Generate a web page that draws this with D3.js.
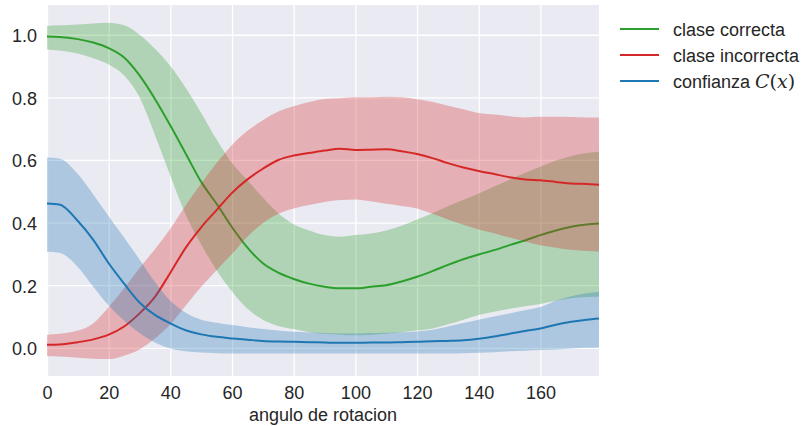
<!DOCTYPE html>
<html>
<head>
<meta charset="utf-8">
<script src="https://cdn.jsdelivr.net/npm/d3@7"></script>
<style>
  html,body{margin:0;padding:0;background:#fff;}
  svg{display:block;}
</style>
</head>
<body>
<div id="chart"></div>
<script>
// angle samples (degrees)
const angles = [0,4,10,15,20,25,30,35,40,45,50,55,60,65,70,75,80,85,90,95,100,105,110,115,120,125,130,135,140,145,150,155,160,165,170,175,179];

// clase correcta
const correctMean = [0.994,0.993,0.986,0.975,0.957,0.927,0.87,0.795,0.71,0.62,0.53,0.46,0.385,0.32,0.27,0.24,0.22,0.205,0.195,0.19,0.19,0.195,0.2,0.212,0.227,0.245,0.265,0.283,0.298,0.312,0.328,0.343,0.36,0.375,0.387,0.394,0.397];
const correctLo   = [0.953,0.95,0.94,0.925,0.905,0.87,0.8,0.68,0.55,0.425,0.33,0.248,0.18,0.125,0.09,0.07,0.06,0.05,0.045,0.042,0.04,0.042,0.045,0.05,0.055,0.062,0.075,0.09,0.105,0.115,0.125,0.133,0.14,0.15,0.158,0.162,0.163];
const correctHi   = [1.028,1.03,1.033,1.036,1.038,1.03,1.0,0.955,0.9,0.83,0.75,0.665,0.59,0.535,0.48,0.43,0.395,0.375,0.36,0.355,0.36,0.365,0.375,0.39,0.41,0.43,0.452,0.473,0.493,0.515,0.537,0.558,0.578,0.598,0.613,0.622,0.626];

// clase incorrecta
const wrongMean = [0.01,0.011,0.018,0.027,0.042,0.068,0.11,0.163,0.24,0.32,0.385,0.44,0.495,0.538,0.572,0.6,0.614,0.622,0.63,0.636,0.632,0.633,0.634,0.628,0.619,0.606,0.59,0.576,0.565,0.555,0.545,0.538,0.535,0.53,0.525,0.523,0.521];
const wrongLo   = [-0.027,-0.028,-0.032,-0.035,-0.036,-0.025,-0.005,0.03,0.075,0.135,0.195,0.248,0.3,0.355,0.398,0.428,0.445,0.456,0.466,0.472,0.474,0.468,0.46,0.453,0.445,0.428,0.41,0.393,0.378,0.366,0.352,0.34,0.328,0.32,0.313,0.309,0.307];
const wrongHi   = [0.042,0.045,0.055,0.078,0.13,0.19,0.255,0.315,0.38,0.455,0.525,0.59,0.648,0.693,0.727,0.755,0.772,0.785,0.795,0.797,0.8,0.8,0.802,0.8,0.794,0.785,0.773,0.762,0.75,0.745,0.74,0.736,0.738,0.738,0.737,0.736,0.736];

// confianza C(x)
const confMean = [0.461,0.458,0.405,0.345,0.27,0.205,0.145,0.105,0.078,0.056,0.043,0.035,0.03,0.026,0.022,0.02,0.019,0.018,0.017,0.016,0.016,0.017,0.017,0.018,0.019,0.021,0.022,0.024,0.029,0.036,0.045,0.054,0.062,0.074,0.083,0.09,0.094];
const confLo   = [0.307,0.304,0.258,0.195,0.135,0.087,0.047,0.017,-0.002,-0.011,-0.015,-0.017,-0.018,-0.018,-0.018,-0.018,-0.018,-0.018,-0.018,-0.018,-0.018,-0.018,-0.018,-0.018,-0.018,-0.018,-0.018,-0.017,-0.016,-0.014,-0.011,-0.009,-0.007,-0.005,-0.002,0,0.001];
const confHi   = [0.608,0.605,0.555,0.49,0.42,0.352,0.282,0.21,0.15,0.112,0.09,0.08,0.073,0.066,0.06,0.055,0.051,0.049,0.047,0.046,0.046,0.047,0.048,0.05,0.052,0.058,0.068,0.079,0.09,0.1,0.11,0.12,0.13,0.15,0.165,0.174,0.179];

const xTicks = [0,20,40,60,80,100,120,140,160];
const yTicks = [0,0.2,0.4,0.6,0.8,1.0];

(function() {
  const W = 803, H = 426;
  const m = {top:5,right:204,bottom:50,left:47};
  const w = W-m.left-m.right, h = H-m.top-m.bottom;
  const font = '"Liberation Sans",Arial,sans-serif';
  const txt = '#262626';

  const series = [
    {label:'clase correcta',   color:'#2ca02c', mean:correctMean, lo:correctLo, hi:correctHi},
    {label:'clase incorrecta', color:'#d62728', mean:wrongMean,   lo:wrongLo,   hi:wrongHi},
    {label:'confianza ',       color:'#1f77b4', mean:confMean,    lo:confLo,    hi:confHi, math:true}
  ];

  const xSc = d3.scaleLinear().domain([0,179]).range([0,w]);
  const ySc = d3.scaleLinear().domain([-0.09,1.095]).range([h,0]);

  const svg = d3.select('#chart').append('svg').attr('width',W).attr('height',H);
  const g = svg.append('g').attr('transform',`translate(${m.left},${m.top})`);

  g.append('rect').attr('width',w).attr('height',h).attr('fill','#eaeaf2');

  // Grid
  g.append('g').call(d3.axisLeft(ySc).tickValues(yTicks).tickSize(-w).tickFormat(''))
    .call(g=>g.select('.domain').remove())
    .call(g=>g.selectAll('line').attr('stroke','#fff').attr('stroke-width',1.3));
  g.append('g').attr('transform',`translate(0,${h})`)
    .call(d3.axisBottom(xSc).tickValues(xTicks).tickSize(-h).tickFormat(''))
    .call(g=>g.select('.domain').remove())
    .call(g=>g.selectAll('line').attr('stroke','#fff').attr('stroke-width',1.3));

  // Bands + lines
  const area = d3.area().x(d=>xSc(d[0])).y0(d=>ySc(d[1])).y1(d=>ySc(d[2])).curve(d3.curveMonotoneX);
  const line = d3.line().x(d=>xSc(d[0])).y(d=>ySc(d[1])).curve(d3.curveMonotoneX);
  series.forEach(s=>{
    const pts = angles.map((a,i)=>[a,s.mean[i],s.lo[i],s.hi[i]]);
    g.append('path').datum(pts.map(p=>[p[0],p[1]]))
      .attr('fill','none').attr('stroke',s.color).attr('stroke-width',2)
      .attr('stroke-linejoin','round').attr('d',line);
    g.append('path').datum(pts.map(p=>[p[0],p[2],p[3]]))
      .attr('fill',s.color).attr('fill-opacity',0.3).attr('stroke','none').attr('d',area);
  });

  // Axes
  const xAx = g.append('g').attr('transform',`translate(0,${h})`)
    .call(d3.axisBottom(xSc).tickValues(xTicks).tickSize(0).tickPadding(10).tickFormat(d3.format('d')));
  const yAx = g.append('g')
    .call(d3.axisLeft(ySc).tickValues(yTicks).tickSize(0).tickPadding(10).tickFormat(d3.format('.1f')));
  [xAx,yAx].forEach(a=>{
    a.select('.domain').remove();
    a.selectAll('text').style('font-family',font).style('font-size','18px').attr('fill',txt);
  });
  yAx.selectAll('text').attr('dy','0.38em');

  g.append('text').attr('x',w/2).attr('y',h+45).attr('text-anchor','middle')
    .style('font-family',font).style('font-size','18px').attr('fill',txt).text('angulo de rotacion');

  // Legend
  const leg = svg.append('g').attr('transform','translate(620,29)');
  series.forEach((s,i)=>{
    const row = leg.append('g').attr('transform',`translate(0,${i*26})`);
    row.append('line').attr('x1',0).attr('x2',39).attr('y1',0).attr('y2',0)
      .attr('stroke',s.color).attr('stroke-width',2);
    const t = row.append('text').attr('x',53).attr('y',6.5)
      .style('font-family',font).style('font-size','18px').attr('fill',txt);
    t.append('tspan').text(s.label);
    if(s.math){
      t.append('tspan').style('font-family','"DejaVu Serif",serif').style('font-style','italic').style('font-size','19px').text('C');
      t.append('tspan').style('font-family','"DejaVu Serif",serif').style('font-size','19px').text('(');
      t.append('tspan').style('font-family','"DejaVu Serif",serif').style('font-style','italic').style('font-size','19px').text('x');
      t.append('tspan').style('font-family','"DejaVu Serif",serif').style('font-size','19px').text(')');
    }
  });
})();
</script>
</body>
</html>
